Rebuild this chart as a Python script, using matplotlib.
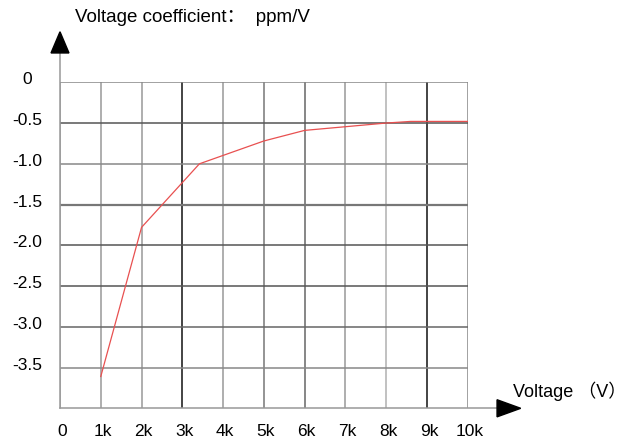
import matplotlib.pyplot as plt
from matplotlib.patches import Polygon

plt.rcParams['font.family'] = ['Liberation Sans', 'Noto Sans CJK SC', 'DejaVu Sans']

# 数据 (kV, ppm/V)
voltage_k = [1, 2, 3.42, 5, 6, 8, 8.6, 10]
coeff = [-3.61, -1.78, -1.0, -0.72, -0.59, -0.50, -0.48, -0.48]

x_ticks = list(range(0, 11))
x_labels = ['0', '1k', '2k', '3k', '4k', '5k', '6k', '7k', '8k', '9k', '10k']
y_ticks = [0, -0.5, -1.0, -1.5, -2.0, -2.5, -3.0, -3.5]
y_labels = ['0', '-0.5', '-1.0', '-1.5', '-2.0', '-2.5', '-3.0', '-3.5']

W, H = 625, 443
fig = plt.figure(figsize=(W / 100, H / 100), dpi=100)
ax = fig.add_axes([60 / W, 1 - 408.3 / H, (467.7 - 60) / W, (408.3 - 82.3) / H])
ax.set_xlim(0, 10)
ax.set_ylim(-4, 0)
ax.axis('off')

# 网格线, 颜色深浅不一
v_colors = ['#999999', '#999999', '#999999', '#111111', '#999999', '#777777',
            '#666666', '#999999', '#b0b0b0', '#111111', '#888888']
for x, c in zip(x_ticks, v_colors):
    ax.plot([x, x], [-4, 0], color=c, lw=1.1, zorder=1)
h_colors = ['#888888', '#555555', '#888888', '#777777', '#555555', '#555555', '#666666', '#888888']
h_widths = [1.1, 1.1, 1.1, 1.6, 1.1, 1.1, 1.1, 1.1]
for y, c, w in zip(y_ticks, h_colors, h_widths):
    ax.plot([0, 10], [y, y], color=c, lw=w, zorder=1)
ax.plot([0, 10.75], [-4, -4], color='#999999', lw=1.1, clip_on=False, zorder=1)
ax.plot([0, 0], [-4, 0.4], color='#999999', lw=1.1, clip_on=False, zorder=1)

# 箭头
ax.add_patch(Polygon([[-0.22, 0.36], [0.22, 0.36], [0, 0.62]], closed=True,
                     color='black', clip_on=False))
ax.add_patch(Polygon([[10.72, -3.895], [10.72, -4.105], [11.3, -4.0]], closed=True,
                     color='black', clip_on=False))

# 曲线
ax.plot(voltage_k, coeff, color='#e85050', lw=0.9, zorder=3)

# 刻度标签
for y, lab in zip(y_ticks, y_labels):
    ax.text(-0.8, y + 0.03, lab, ha='center', va='center', fontsize=12.5)
for x, lab in zip(x_ticks, x_labels):
    ax.text(x + 0.05, -4.29, lab, ha='center', va='center', fontsize=12.5)

fig.text(75 / W, 1 - 17 / H, 'Voltage coefficient：  ppm/V', ha='left', va='center', fontsize=13.5)
fig.text(513 / W, 1 - 391 / H, 'Voltage （V）', ha='left', va='center', fontsize=13)

fig.savefig('out.png', dpi=100, facecolor='white')
